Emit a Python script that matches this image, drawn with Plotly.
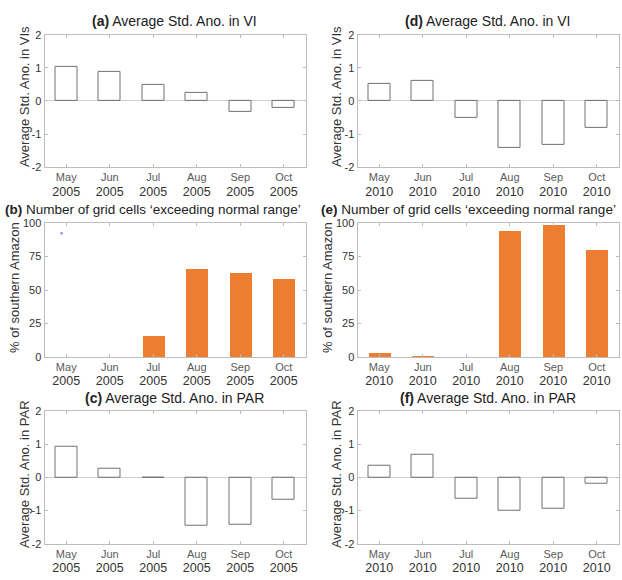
import plotly.graph_objects as go

W, H = 622, 580

months = ["May", "Jun", "Jul", "Aug", "Sep", "Oct"]
positions = [1, 2, 3, 4, 5, 6]

# Average standardised anomaly in vegetation indices
vi_2005 = [1.04, 0.87, 0.49, 0.24, -0.34, -0.21]
vi_2010 = [0.51, 0.61, -0.51, -1.42, -1.34, -0.82]

# Share of southern Amazon grid cells outside the normal range (%)
pct_2005 = [0, 0, 15.8, 65.4, 62.7, 58.0]
pct_2010 = [2.9, 0.5, 0, 93.9, 98.3, 80.0]

# Stray marker drawn in panel (b)
stray_x = [0.89]
stray_y = [92.5]

# Average standardised anomaly in PAR
par_2005 = [0.92, 0.25, -0.02, -1.46, -1.41, -0.66]
par_2010 = [0.35, 0.68, -0.64, -1.01, -0.94, -0.19]

FONT = "Liberation Sans, Arial, sans-serif"
FRAME = "#bdbdbd"
EDGE = "#707070"
ORANGE = "#ED7D31"


def px(x):
    return x / W


def py(y):
    return 1 - y / H


# Panel rectangles in pixels: (left, right, top, bottom)
left_cols = (44.5, 305.5)
right_cols = (357.5, 618.5)
rows = [(29.5, 164.5), (221.7, 358.3), (413.3, 549.3)]

fig = go.Figure()

panels = [
    # (axis index, column, row, values, kind, year)
    (1, left_cols, rows[0], vi_2005, "anom", "2005"),
    (2, right_cols, rows[0], vi_2010, "anom", "2010"),
    (3, left_cols, rows[1], pct_2005, "pct", "2005"),
    (4, right_cols, rows[1], pct_2010, "pct", "2010"),
    (5, left_cols, rows[2], par_2005, "anom", "2005"),
    (6, right_cols, rows[2], par_2010, "anom", "2010"),
]

layout = {}
for idx, (cx0, cx1), (ry0, ry1), vals, kind, yr in panels:
    sfx = "" if idx == 1 else str(idx)
    xa, ya = "x" + sfx, "y" + sfx
    if kind == "anom":
        fig.add_trace(go.Bar(
            x=positions, y=vals, width=0.5, xaxis=xa, yaxis=ya,
            marker=dict(color="rgba(255,255,255,0)",
                        line=dict(color=EDGE, width=1)),
            showlegend=False, hoverinfo="x+y",
        ))
        yrange = [-2, 2]
        tvals = [-2, -1, 0, 1, 2]
        ttext = ["-2", "-1", "0", "1", "2"]
    else:
        fig.add_trace(go.Bar(
            x=positions, y=vals, width=0.5, xaxis=xa, yaxis=ya,
            marker=dict(color=ORANGE, line=dict(width=0)),
            showlegend=False, hoverinfo="x+y",
        ))
        yrange = [0, 100]
        tvals = [0, 25, 50, 75, 100]
        ttext = [str(v) for v in tvals]

    ticktext = [
        f"{m}<br><span style='font-size:12.5px;color:#333333'>{yr}</span>"
        for m in months
    ]
    layout["xaxis" + sfx] = dict(
        domain=[px(cx0), px(cx1)], anchor=ya, range=[0.5, 6.5],
        tickvals=positions, ticktext=ticktext,
        ticks="inside", ticklen=3, tickcolor=FRAME,
        showline=True, linecolor=FRAME, linewidth=1, mirror="ticks",
        showgrid=False, zeroline=False, fixedrange=True,
        tickfont=dict(family=FONT, size=11, color="#5a5a5a"),
    )
    layout["yaxis" + sfx] = dict(
        domain=[py(ry1), py(ry0)], anchor=xa, range=yrange,
        tickvals=tvals, ticktext=ttext,
        ticks="inside", ticklen=3, tickcolor=FRAME,
        showline=True, linecolor=FRAME, linewidth=1, mirror="ticks",
        showgrid=False, fixedrange=True,
        zeroline=(kind == "anom"), zerolinecolor="#cfcfcf", zerolinewidth=1,
        tickfont=dict(family=FONT, size=11, color="#333333"),
    )

fig.add_trace(go.Scatter(
    x=stray_x, y=stray_y, xaxis="x3", yaxis="y3", mode="markers",
    marker=dict(size=2.5, color="#8c8cff"), showlegend=False, hoverinfo="skip",
))

annotations = []

# Panel titles
titles = [
    ("<b>(a)</b> Average Std. Ano. in VI", 174.5, 15, "center", 14),
    ("<b>(d)</b> Average Std. Ano. in VI", 487.5, 15, "center", 14),
    ("<b>(b)</b> Number of grid cells \u2018exceeding normal range\u2019", 3, 208, "left", 13.5),
    ("<b>(e)</b> Number of grid cells \u2018exceeding normal range\u2019", 319, 208, "left", 13.5),
    ("<b>(c)</b> Average Std. Ano. in PAR", 174.5, 400, "center", 14),
    ("<b>(f)</b> Average Std. Ano. in PAR", 487.5, 400, "center", 14),
]
for text, x, y, anchor, size in titles:
    annotations.append(dict(
        text=text, x=px(x), y=py(y), xref="paper", yref="paper",
        xanchor=anchor, yanchor="middle", showarrow=False,
        font=dict(family=FONT, size=size, color="#222222"),
    ))

# Y-axis titles
ytitles = [
    ("Average Std. Ano. in VIs", 24, 93),
    ("Average Std. Ano. in VIs", 336, 93),
    ("% of southern Amazon", 14, 288),
    ("% of southern Amazon", 327, 288),
    ("Average Std. Ano. in PAR", 24, 478),
    ("Average Std. Ano. in PAR", 336, 478),
]
for text, x, y in ytitles:
    annotations.append(dict(
        text=text, x=px(x), y=py(y), xref="paper", yref="paper",
        xanchor="center", yanchor="middle", textangle=-90, showarrow=False,
        font=dict(family=FONT, size=13, color="#333333"),
    ))

fig.update_layout(
    width=W, height=H,
    margin=dict(l=0, r=0, t=0, b=0),
    paper_bgcolor="white", plot_bgcolor="white",
    bargap=0, annotations=annotations,
    **layout,
)

fig.write_html("out.html")
